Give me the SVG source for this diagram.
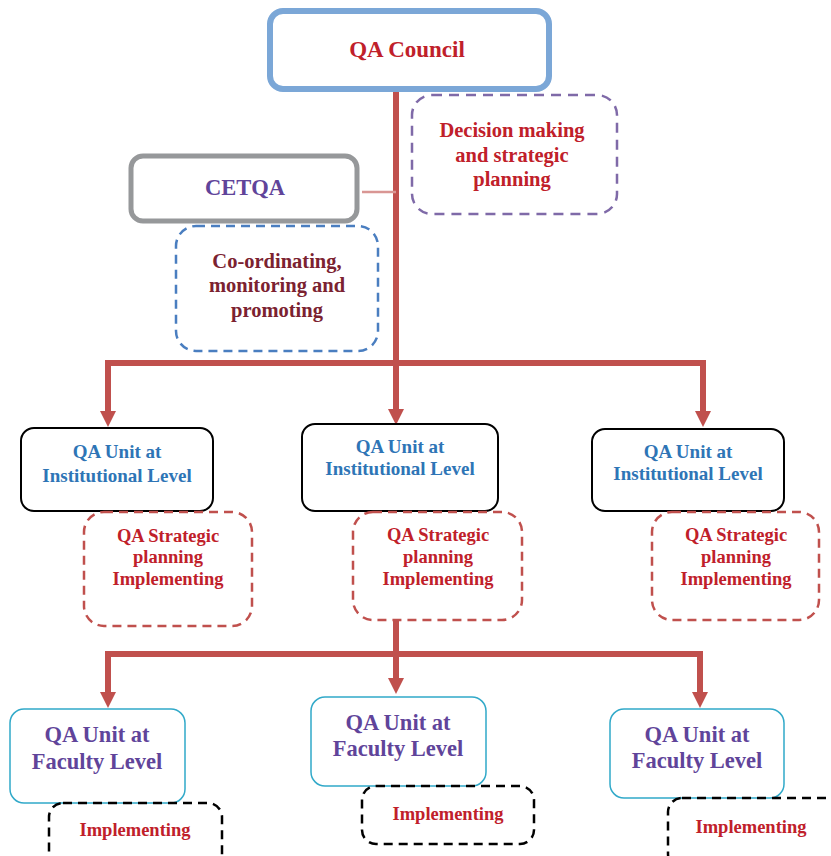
<svg xmlns="http://www.w3.org/2000/svg" width="831" height="856" viewBox="0 0 831 856">
<style>
text{font-family:"Liberation Serif","Times New Roman",serif;font-weight:bold;text-anchor:middle}
.red{fill:#C0202A}
.blue{fill:#2E75B6}
.pur{fill:#60449A}
.mar{fill:#7B2230}
.conn{stroke:#C0504D;stroke-width:6;fill:none}
.head{fill:#C0504D}
.inst{fill:#fff;stroke:#000;stroke-width:2}
.strat{fill:none;stroke:#C0504D;stroke-width:2.5;stroke-dasharray:9 6}
.fac{fill:#fff;stroke:#31A9C9;stroke-width:1.5}
.impl{fill:none;stroke:#000;stroke-width:2.5;stroke-dasharray:9 6}
.f19{font-size:19px}
.f18{font-size:18.5px}
.f20{font-size:20.5px}
.f22{font-size:22.5px}
</style>
<rect width="831" height="856" fill="#fff"/>
<g id="connectors">
<line x1="396" y1="90" x2="396" y2="412" class="conn"/>
<polyline points="108,412 108,363 703,363 703,412" class="conn"/>
<polygon points="100,411 116,411 108,427" class="head"/>
<polygon points="388,409 404,409 396,425" class="head"/>
<polygon points="695,411 711,411 703,427" class="head"/>
<line x1="362" y1="192" x2="396" y2="192" stroke="#D99694" stroke-width="2.5"/>
<line x1="396" y1="620" x2="396" y2="680" class="conn"/>
<polyline points="108,694 108,654 700,654 700,694" class="conn"/>
<polygon points="100,692 116,692 108,708" class="head"/>
<polygon points="388,678 404,678 396,694" class="head"/>
<polygon points="692,692 708,692 700,708" class="head"/>
</g>
<g id="qa-council">
<rect x="270" y="11" width="279" height="78" rx="13" fill="#fff" stroke="#7BA7D7" stroke-width="6"/>
<text x="407" y="57" font-size="23" class="red">QA Council</text>
</g>
<g id="decision">
<rect x="412" y="95" width="205" height="119" rx="20" fill="none" stroke="#7F6AA8" stroke-width="2.5" stroke-dasharray="10 7"/>
<text x="512" y="137" class="red f20">Decision making</text>
<text x="512" y="162" class="red f20">and strategic</text>
<text x="512" y="186" class="red f20">planning</text>
</g>
<g id="cetqa">
<rect x="131" y="156" width="226" height="65" rx="12" fill="#fff" stroke="#96989A" stroke-width="5"/>
<text x="245" y="195" class="pur f22">CETQA</text>
</g>
<g id="coordinating">
<rect x="176" y="226" width="202" height="125" rx="20" fill="none" stroke="#4A7EC0" stroke-width="2.5" stroke-dasharray="9 6"/>
<text x="277" y="268" class="mar f20">Co-ordinating,</text>
<text x="277" y="292" class="mar f20">monitoring and</text>
<text x="277" y="317" class="mar f20">promoting</text>
</g>
<g id="inst-left">
<rect x="21" y="428" width="192" height="83" rx="13" class="inst"/>
<text x="117" y="458" class="blue f19">QA Unit at</text>
<text x="117" y="482" class="blue f19">Institutional Level</text>
</g>
<g id="inst-mid">
<rect x="302" y="424" width="196" height="87" rx="13" class="inst"/>
<text x="400" y="453" class="blue f19">QA Unit at</text>
<text x="400" y="475" class="blue f19">Institutional Level</text>
</g>
<g id="inst-right">
<rect x="592" y="429" width="192" height="82" rx="13" class="inst"/>
<text x="688" y="458" class="blue f19">QA Unit at</text>
<text x="688" y="480" class="blue f19">Institutional Level</text>
</g>
<g id="strat-left">
<rect x="84" y="512" width="168" height="114" rx="20" class="strat"/>
<text x="168" y="542" class="red f18">QA Strategic</text>
<text x="168" y="563" class="red f18">planning</text>
<text x="168" y="585" class="red f18">Implementing</text>
</g>
<g id="strat-mid">
<rect x="353" y="512" width="169" height="108" rx="20" class="strat"/>
<text x="438" y="541" class="red f18">QA Strategic</text>
<text x="438" y="563" class="red f18">planning</text>
<text x="438" y="585" class="red f18">Implementing</text>
</g>
<g id="strat-right">
<rect x="652" y="512" width="167" height="108" rx="20" class="strat"/>
<text x="736" y="541" class="red f18">QA Strategic</text>
<text x="736" y="563" class="red f18">planning</text>
<text x="736" y="585" class="red f18">Implementing</text>
</g>
<g id="fac-left">
<rect x="10" y="709" width="175" height="94" rx="14" class="fac"/>
<text x="97" y="742" class="pur f22">QA Unit at</text>
<text x="97" y="769" class="pur f22">Faculty Level</text>
</g>
<g id="fac-mid">
<rect x="311" y="697" width="175" height="89" rx="14" class="fac"/>
<text x="398" y="730" class="pur f22">QA Unit at</text>
<text x="398" y="756" class="pur f22">Faculty Level</text>
</g>
<g id="fac-right">
<rect x="610" y="709" width="174" height="89" rx="14" class="fac"/>
<text x="697" y="742" class="pur f22">QA Unit at</text>
<text x="697" y="768" class="pur f22">Faculty Level</text>
</g>
<g id="impl-left">
<rect x="49" y="803" width="173" height="70" rx="14" class="impl"/>
<text x="135" y="836" class="red f18">Implementing</text>
</g>
<g id="impl-mid">
<rect x="362" y="786" width="172" height="58" rx="14" class="impl"/>
<text x="448" y="820" class="red f18">Implementing</text>
</g>
<g id="impl-right">
<rect x="668" y="798" width="180" height="70" rx="14" class="impl"/>
<text x="751" y="833" class="red f18">Implementing</text>
</g>
</svg>
